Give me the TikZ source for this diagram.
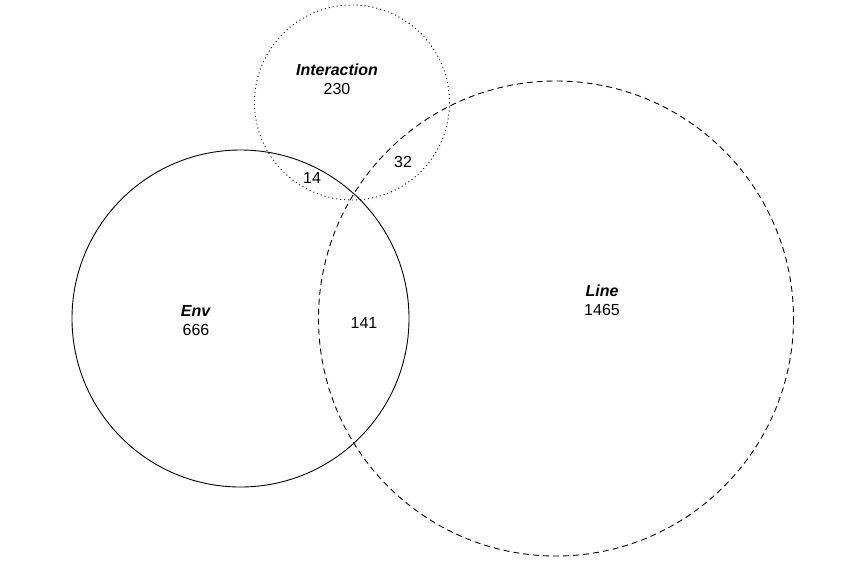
\documentclass[tikz,border=0pt]{standalone}
\usepackage{fontspec}
\setmainfont{Liberation Sans}
\begin{document}
\begin{tikzpicture}[x=1pt,y=-1pt,
  setc/.style={draw=black,line width=0.9pt},
  lbl/.style={font=\fontsize{16}{18}\selectfont,align=center,inner sep=0pt}]
\useasboundingbox[fill=white] (0,0) rectangle (866,562);
\draw[setc] (240.5,318.5) circle[radius=168.5];
\draw[setc,dash pattern=on 1pt off 3pt] (352,102.5) circle[radius=97.5];
\draw[setc,dash pattern=on 6pt off 4pt] (556,318.5) circle[radius=237.5];
\node[lbl] (inttitle) at (337,70) {\textit{\textbf{Interaction}}};
\node[lbl] (intnum) at (337,89) {230};
\node[lbl] (envtitle) at (196,311) {\textit{\textbf{Env}}};
\node[lbl] (envnum) at (196,330) {666};
\node[lbl] (linetitle) at (602,291) {\textit{\textbf{Line}}};
\node[lbl] (linenum) at (602,310) {1465};
\node[lbl] (ei) at (312,178) {14};
\node[lbl] (il) at (403,162) {32};
\node[lbl] (el) at (364,323) {141};
\end{tikzpicture}
\end{document}
